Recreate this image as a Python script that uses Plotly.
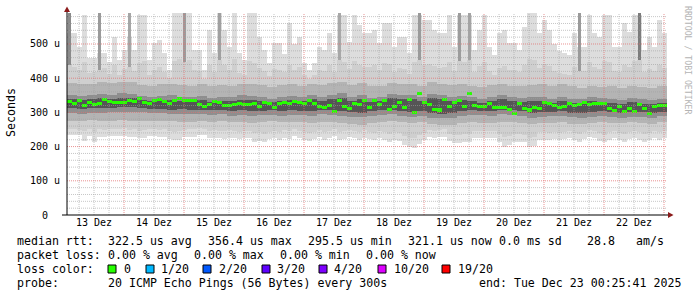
import plotly.graph_objects as go
import pandas as pd

# ---------------- data ----------------
START = pd.Timestamp("2025-12-13 01:12")
END = START + pd.Timedelta(days=10)

# median RTT (microseconds), one value per 2 h
median_us = [
    331, 325, 334, 320, 329, 322, 326, 337, 332, 329,
    330, 328, 334, 331, 340, 329, 326, 335, 339, 333,
    327, 334, 341, 334, 336, 335, 322, 318, 322, 332,
    328, 321, 320, 323, 326, 324, 324, 325, 318, 329,
    327, 315, 327, 330, 326, 331, 328, 327, 336, 325,
    318, 314, 320, 303, 336, 318, 311, 326, 322, 334,
    315, 336, 322, 334, 308, 318, 328, 313, 338, 301,
    355, 328, 322, 308, 307, 339, 318, 330, 335, 318,
    354, 320, 318, 318, 326, 313, 314, 315, 309, 298,
    327, 310, 307, 313, 312, 330, 325, 320, 315, 318,
    327, 321, 324, 329, 323, 326, 326, 325, 311, 305,
    318, 302, 310, 304, 322, 310, 297, 318, 319, 320]

# outer smoke (fastest / slowest ping), per 2 h
smoke_lo = [
    234, 234, 233, 216, 231, 213, 228, 228, 231, 231,
    230, 232, 229, 229, 225, 225, 231, 231, 228, 228,
    222, 219, 219, 228, 228, 228, 234, 234, 225, 225,
    225, 222, 225, 225, 222, 225, 225, 213, 215, 213,
    222, 225, 220, 226, 222, 230, 224, 218, 215, 221,
    228, 220, 226, 230, 218, 222, 228, 224, 220, 226,
    222, 218, 225, 220, 214, 220, 215, 205, 198, 196,
    208, 218, 228, 226, 228, 229, 215, 210, 210, 212,
    214, 225, 225, 226, 226, 224, 214, 199, 205, 213,
    213, 212, 199, 203, 220, 220, 218, 222, 218, 222,
    225, 219, 213, 222, 228, 224, 216, 212, 220, 224,
    218, 214, 222, 226, 220, 212, 218, 224, 220, 226]
smoke_hi = [
    532, 532, 491, 585, 460, 459, 473, 473, 448, 520,
    453, 482, 520, 482, 585, 585, 453, 502, 512, 473,
    424, 590, 590, 590, 590, 482, 482, 424, 541, 473,
    590, 541, 491, 590, 473, 453, 590, 590, 520, 482,
    444, 502, 502, 470, 560, 500, 520, 444, 424, 444,
    491, 482, 532, 473, 585, 585, 506, 585, 556, 532,
    532, 541, 502, 561, 561, 491, 520, 520, 473, 585,
    585, 570, 570, 541, 532, 532, 585, 491, 585, 585,
    585, 482, 541, 585, 491, 468, 532, 541, 502, 502,
    482, 550, 590, 590, 532, 570, 541, 500, 480, 473,
    468, 532, 491, 491, 585, 532, 520, 585, 585, 491,
    491, 561, 535, 585, 585, 482, 520, 491, 570, 532]

# second smoke band, per 2 h
band2_lo = [
    252, 250, 248, 246, 251, 244, 250, 249, 252, 250,
    251, 253, 249, 250, 247, 248, 252, 251, 249, 250,
    246, 243, 245, 249, 250, 251, 254, 252, 247, 248,
    246, 245, 248, 247, 244, 247, 246, 240, 242, 238,
    244, 247, 243, 248, 246, 250, 246, 242, 240, 244,
    249, 243, 247, 250, 242, 245, 249, 246, 243, 248,
    244, 241, 246, 243, 238, 243, 239, 232, 226, 224,
    233, 241, 248, 247, 249, 250, 238, 234, 233, 236,
    237, 246, 246, 247, 247, 245, 236, 227, 230, 236,
    236, 235, 226, 229, 242, 242, 240, 244, 240, 244,
    246, 241, 236, 244, 248, 245, 239, 235, 242, 246,
    240, 237, 244, 247, 242, 236, 240, 245, 242, 247]
band2_hi = [
    440, 432, 425, 448, 415, 418, 425, 430, 412, 438,
    410, 428, 432, 420, 445, 450, 408, 425, 432, 418,
    400, 450, 455, 448, 452, 425, 420, 398, 440, 418,
    452, 438, 425, 455, 415, 410, 450, 445, 430, 420,
    405, 428, 425, 418, 440, 425, 432, 410, 398, 408,
    425, 420, 438, 418, 452, 448, 428, 450, 440, 432,
    432, 438, 425, 445, 442, 418, 430, 428, 412, 448,
    452, 440, 442, 436, 430, 432, 448, 420, 450, 448,
    452, 418, 436, 448, 420, 410, 430, 436, 425, 424,
    418, 440, 455, 452, 430, 442, 436, 420, 415, 412,
    410, 432, 420, 422, 448, 432, 428, 450, 448, 420,
    418, 440, 432, 450, 452, 418, 428, 420, 440, 430]

# inner smoke bands, per 4 h
band3_lo = [
    276, 275, 277, 274, 276, 277, 276, 275, 274, 276,
    275, 273, 272, 274, 273, 274, 271, 272, 270, 272,
    274, 271, 273, 272, 270, 272, 271, 269, 266, 264,
    270, 273, 276, 272, 269, 271, 266, 262, 264, 270,
    271, 270, 268, 272, 273, 268, 266, 270, 269, 271,
    267, 266, 270, 272, 269, 268, 271, 270, 267, 272]
band3_hi = [
    385, 382, 384, 388, 386, 390, 388, 380, 378, 382,
    384, 380, 378, 382, 376, 380, 378, 384, 382, 380,
    375, 380, 382, 378, 384, 380, 386, 388, 380, 385,
    376, 378, 386, 382, 384, 378, 388, 384, 380, 382,
    378, 375, 380, 384, 378, 376, 380, 382, 378, 384,
    376, 372, 378, 374, 376, 370, 378, 374, 372, 376]
band4_lo = [
    298, 296, 299, 297, 300, 301, 302, 300, 297, 297,
    295, 296, 294, 295, 293, 295, 290, 293, 289, 291,
    292, 290, 293, 291, 290, 294, 292, 290, 288, 286,
    290, 292, 294, 290, 288, 290, 285, 283, 284, 290,
    293, 291, 290, 294, 293, 290, 285, 288, 289, 290,
    286, 285, 288, 290, 287, 284, 288, 287, 285, 290]
band4_hi = [
    350, 348, 352, 355, 352, 356, 354, 348, 346, 348,
    350, 346, 344, 348, 342, 345, 344, 350, 348, 346,
    340, 345, 348, 344, 350, 346, 352, 356, 345, 350,
    342, 344, 355, 350, 352, 345, 355, 352, 345, 348,
    345, 340, 346, 350, 345, 342, 346, 344, 340, 346,
    340, 338, 344, 342, 340, 335, 342, 338, 336, 340]
core_lo = [
    312, 310, 314, 312, 314, 316, 316, 312, 310, 310,
    308, 309, 307, 308, 306, 308, 304, 306, 303, 305,
    306, 304, 308, 305, 304, 308, 306, 303, 300, 298,
    303, 306, 308, 304, 302, 304, 298, 296, 298, 304,
    307, 305, 304, 308, 306, 303, 298, 300, 301, 303,
    298, 297, 301, 303, 300, 297, 301, 300, 297, 302]
core_hi = [
    338, 336, 340, 342, 340, 343, 342, 336, 334, 336,
    337, 334, 332, 335, 330, 333, 332, 337, 335, 333,
    330, 332, 336, 332, 338, 334, 340, 343, 333, 338,
    330, 332, 342, 338, 340, 333, 342, 340, 333, 336,
    333, 328, 334, 338, 333, 330, 334, 332, 328, 334,
    328, 326, 332, 330, 328, 324, 330, 326, 325, 328]

# steps where several pings went very slow (dark columns to the top)
spike_idx = [0, 6, 12, 23, 30, 54, 70, 78, 80, 102, 114]
spike_gray = ["#8a8a8a", "#9a9a9a", "#a6a6a6", "#9c9c9c", "#a0a0a0", "#a8a8a8",
              "#9a9a9a", "#9c9c9c", "#a4a4a4", "#9a9a9a", "#7c7c7c"]

day_ticks = pd.date_range("2025-12-13 12:00", periods=10, freq="D")
day_labels = ["13 Dez", "14 Dez", "15 Dez", "16 Dez", "17 Dez",
              "18 Dez", "19 Dez", "20 Dez", "21 Dez", "22 Dez"]
y_tick_vals = [0, 100, 200, 300, 400, 500]
y_tick_text = ["0\u00a0\u00a0", "100 u", "200 u", "300 u", "400 u", "500 u"]
Y_MAX = 590.6

loss_labels = ["0", "1/20", "2/20", "3/20", "4/20", "10/20", "19/20"]
loss_colors = ["#26ff00", "#00b8ff", "#0059ff", "#5e00ff", "#7e00ff", "#dd00ff", "#ff0000"]

# ---------------- helpers ----------------
FIG_W, FIG_H = 697, 297
L, R, T, B = 67, 667, 13, 215   # plot area in pixels
MONO = "DejaVu Sans Mono"


def PX(x):
    return (x - L) / (R - L)


def PY(y):
    return (B - y) / (B - T)


t2 = pd.date_range(START + pd.Timedelta(hours=1), periods=len(median_us), freq="2h")
t4 = pd.date_range(START + pd.Timedelta(hours=2), periods=len(band3_lo), freq="4h")
W2 = 2 * 3600 * 1000
W4 = 4 * 3600 * 1000

fig = go.Figure()


def band(x, lo, hi, color, width):
    fig.add_trace(go.Bar(
        x=x, base=lo, y=[h - l for l, h in zip(lo, hi)], width=width,
        marker=dict(color=color, line=dict(width=0)), hoverinfo="skip", showlegend=False))


band(t2, smoke_lo, smoke_hi, "#dddddd", W2)
fig.add_trace(go.Bar(
    x=[t2[i] for i in spike_idx], base=[band2_hi[i] for i in spike_idx],
    y=[Y_MAX + 10 - band2_hi[i] for i in spike_idx], width=W2 * 0.5,
    marker=dict(color=spike_gray, line=dict(width=0)), hoverinfo="skip", showlegend=False))
band(t2, band2_lo, band2_hi, "#cfcfcf", W2)
band(t4, band3_lo, band3_hi, "#b4b4b4", W4)
band(t4, band4_lo, band4_hi, "#8e8e8e", W4)
band(t4, core_lo, core_hi, "#555555", W4)

# median (loss colour 0)
MED_T = 8.8
fig.add_trace(go.Bar(
    x=t2, base=[m - MED_T / 2 for m in median_us], y=[MED_T] * len(median_us), width=W2,
    marker=dict(color=loss_colors[0], line=dict(width=0)), hoverinfo="skip", showlegend=False))

shapes = []
# grid (drawn above smoke, as rrdtool does)
minor_v = pd.date_range("2025-12-13 06:00", END, freq="6h")
for ts in minor_v:
    major = ts.hour == 0
    shapes.append(dict(type="line", xref="x", yref="paper", x0=ts, x1=ts, y0=0, y1=1,
                       layer="above",
                       line=dict(color="rgba(225,110,110,0.75)" if major else "rgba(160,160,160,0.6)",
                                 width=1, dash="1px,1px")))
for v in range(20, int(Y_MAX), 20):
    major = v % 100 == 0
    shapes.append(dict(type="line", xref="paper", yref="y", x0=0, x1=1, y0=v, y1=v,
                       layer="above",
                       line=dict(color="rgba(225,110,110,0.75)" if major else "rgba(160,160,160,0.6)",
                                 width=1, dash="1px,1px")))
# axes with arrows
shapes.append(dict(type="line", xref="paper", yref="paper", x0=PX(62), x1=PX(670),
                   y0=0, y1=0, layer="above", line=dict(color="black", width=1)))
shapes.append(dict(type="line", xref="paper", yref="paper", x0=0, x1=0,
                   y0=0, y1=PY(9), layer="above", line=dict(color="black", width=1)))
shapes.append(dict(type="path", xref="paper", yref="paper", layer="above",
                   path=f"M {PX(64)} {PY(12)} L {PX(70)} {PY(12)} L {PX(67)} {PY(6.5)} Z",
                   fillcolor="#8b1a1a", line=dict(width=0)))
shapes.append(dict(type="path", xref="paper", yref="paper", layer="above",
                   path=f"M {PX(668)} {PY(212)} L {PX(668)} {PY(218)} L {PX(673.5)} {PY(215)} Z",
                   fillcolor="#8b1a1a", line=dict(width=0)))

annotations = []


def text(s, x, y, size=11.6, color="black", angle=0, xanchor="left"):
    annotations.append(dict(text=s, x=PX(x), y=PY(y), xref="paper", yref="paper",
                            xanchor=xanchor, yanchor="middle", showarrow=False,
                            textangle=angle, borderpad=0,
                            font=dict(family=MONO, size=size, color=color)))


text("Seconds", 11, 113, angle=-90, xanchor="center")
text("RRDTOOL / TOBI OETIKER", 688, 60, size=8.2, color="#b4b4b4", angle=90, xanchor="center")

for s, x in [("median rtt:", 16), ("322.5 us avg", 107), ("356.4 us max", 207),
             ("295.5 us min", 307), ("321.1 us now", 407), ("0.0 ms sd", 498),
             ("28.8", 586), ("am/s", 635)]:
    text(s, x, 241)
for s, x in [("packet loss:", 16), ("0.00 % avg", 107), ("0.00 % max", 193),
             ("0.00 % min", 279), ("0.00 % now", 365)]:
    text(s, x, 255)
text("loss color:", 16, 269)
box_x = [108, 146, 203, 262, 319, 378, 442]
lab_x = [123, 160, 218, 276, 333, 393, 457]
for lab, col, bx, lx in zip(loss_labels, loss_colors, box_x, lab_x):
    shapes.append(dict(type="rect", xref="paper", yref="paper",
                       x0=PX(bx), x1=PX(bx + 8), y0=PY(273), y1=PY(265),
                       fillcolor=col, line=dict(color="black", width=1)))
    text(lab, lx, 269)
for s, x in [("probe:", 16), ("20 ICMP Echo Pings (56 Bytes) every 300s", 107),
             ("end: Tue Dec 23 00:25:41 2025", 478)]:
    text(s, x, 283)

fig.update_layout(
    width=FIG_W, height=FIG_H,
    margin=dict(l=L, r=FIG_W - R, t=T, b=FIG_H - B, pad=0),
    paper_bgcolor="white", plot_bgcolor="white",
    barmode="overlay", bargap=0, showlegend=False, hovermode=False,
    shapes=shapes, annotations=annotations,
    xaxis=dict(type="date", range=[START, END], showgrid=False, zeroline=False,
               showline=False, tickvals=day_ticks, ticktext=day_labels, ticks="",
               tickfont=dict(family=MONO, size=10, color="black"), fixedrange=True),
    yaxis=dict(range=[0, Y_MAX], showgrid=False, zeroline=False, showline=False,
               tickvals=y_tick_vals, ticktext=y_tick_text, ticks="",
               ticklabelstandoff=6,
               tickfont=dict(family=MONO, size=10, color="black"), fixedrange=True),
)

fig.write_html("out.html")
